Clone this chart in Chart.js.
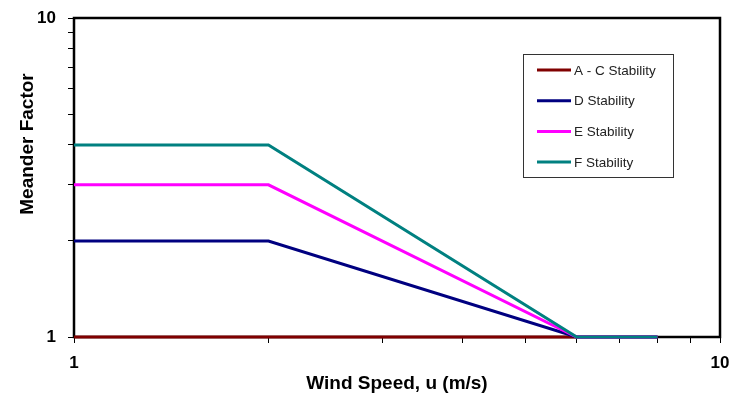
<!DOCTYPE html>
<html>
<head>
<meta charset="utf-8">
<script src="https://cdn.jsdelivr.net/npm/chart.js@4/dist/chart.umd.min.js"></script>
<style>
  html, body { margin: 0; padding: 0; background: #fff; }
  #wrap { width: 742px; height: 395px; }
</style>
</head>
<body>
<div id="wrap"><canvas id="meander-chart" width="742" height="395"></canvas></div>
<script>
// wind speed (m/s) at each breakpoint
const windSpeed = [1, 2, 6, 8];
const acStability = [1, 1, 1, 1];
const dStability = [2, 2, 1, 1];
const eStability = [3, 3, 1, 1];
const fStability = [4, 4, 1, 1];
const seriesLabels = ['A - C Stability', 'D Stability', 'E Stability', 'F Stability'];
const seriesColors = ['#800000', '#000080', '#ff00ff', '#008080'];
const tickValues = [1, 2, 3, 4, 5, 6, 7, 8, 9, 10];
const shownTicks = [1, 10];
const yTitle = 'Meander Factor';

const FONT = '"Liberation Sans", Arial, sans-serif';
const toPoints = (ys) => windSpeed.map((x, i) => ({ x: x, y: ys[i] }));

// box round the plot area, under the lines
const frame = {
    id: 'frame',
    beforeDatasetsDraw(chart) {
        const a = chart.chartArea;
        const ctx = chart.ctx;
        ctx.save();
        ctx.strokeStyle = '#000';
        ctx.lineWidth = 2.5;
        ctx.strokeRect(a.left, a.top, a.right - a.left, a.bottom - a.top);
        ctx.restore();
    }
};

// y title sits above the middle in the original, so place it by hand
const sideTitle = {
    id: 'sideTitle',
    afterDraw(chart) {
        const ctx = chart.ctx;
        ctx.save();
        ctx.translate(28, 144);
        ctx.rotate(-Math.PI / 2);
        ctx.font = 'bold 19px ' + FONT;
        ctx.fillStyle = '#000';
        ctx.textAlign = 'center';
        ctx.textBaseline = 'middle';
        ctx.fillText(yTitle, 0, 0);
        ctx.restore();
    }
};

// legend box drawn in the plot, upper right
const boxLegend = {
    id: 'boxLegend',
    afterDraw(chart) {
        const ctx = chart.ctx;
        const left = 523, top = 54, w = 150, h = 123;
        ctx.save();
        ctx.fillStyle = '#fff';
        ctx.fillRect(left, top, w, h);
        ctx.strokeStyle = '#333';
        ctx.lineWidth = 1;
        ctx.strokeRect(left + 0.5, top + 0.5, w, h);
        ctx.font = '13.5px ' + FONT;
        ctx.textBaseline = 'middle';
        chart.data.datasets.forEach((ds, i) => {
            const y = top + 16 + i * 30.7;
            ctx.strokeStyle = ds.borderColor;
            ctx.lineWidth = 3;
            ctx.beginPath();
            ctx.moveTo(left + 14, y);
            ctx.lineTo(left + 48, y);
            ctx.stroke();
            ctx.fillStyle = '#222';
            ctx.fillText(ds.label, left + 51, y + 1);
        });
        ctx.restore();
    }
};

const allSeries = [acStability, dStability, eStability, fStability];

const logAxis = (tickPad) => ({
    type: 'logarithmic',
    min: 1,
    max: 10,
    border: { display: false },
    grid: { drawOnChartArea: false, drawTicks: true, tickLength: 6, color: '#000', lineWidth: 1 },
    afterBuildTicks: (scale) => { scale.ticks = tickValues.map(v => ({ value: v })); },
    ticks: {
        autoSkip: false,
        maxRotation: 0,
        color: '#000',
        padding: tickPad,
        font: { family: FONT, size: 17, weight: 'bold' },
        callback: (v) => shownTicks.includes(v) ? String(v) : ''
    }
});

const xAxis = logAxis(10);
xAxis.title = {
    display: true,
    text: 'Wind Speed, u (m/s)',
    color: '#000',
    padding: { top: 0, bottom: 0 },
    font: { family: FONT, size: 19, weight: 'bold' }
};
xAxis.afterFit = (scale) => { scale.height = 58; };
const yAxis = logAxis(12);
yAxis.afterFit = (scale) => {
    scale.width = 74;
    scale.paddingTop = 0;
    scale.paddingBottom = 0;
};

new Chart(document.getElementById('meander-chart'), {
    type: 'line',
    data: {
        datasets: allSeries.map((ys, i) => ({
            label: seriesLabels[i],
            data: toPoints(ys),
            borderColor: seriesColors[i],
            backgroundColor: seriesColors[i],
            borderWidth: 3,
            pointRadius: 0,
            tension: 0,
            fill: false,
            clip: false,
            order: allSeries.length - i
        }))
    },
    options: {
        responsive: false,
        animation: false,
        layout: { padding: { top: 18, right: 22 } },
        plugins: {
            legend: { display: false },
            tooltip: { enabled: false }
        },
        scales: { x: xAxis, y: yAxis }
    },
    plugins: [frame, boxLegend, sideTitle]
});
</script>
</body>
</html>
